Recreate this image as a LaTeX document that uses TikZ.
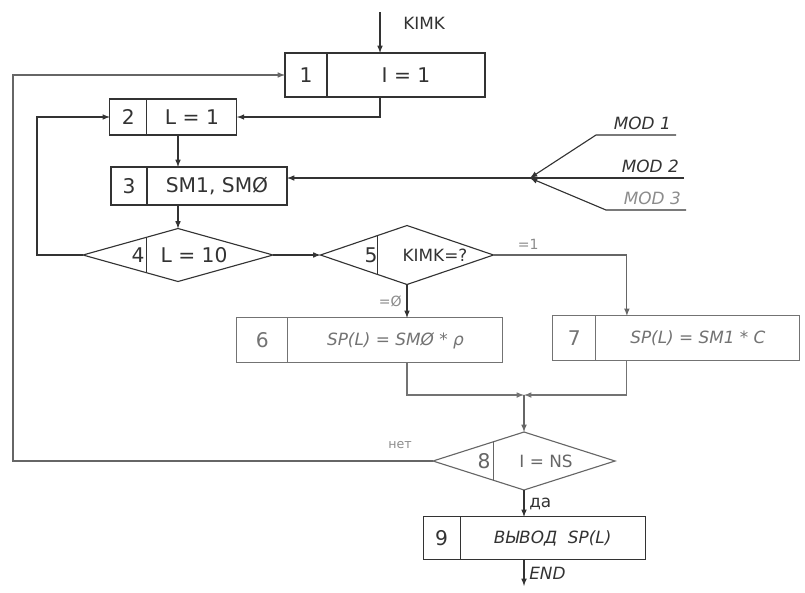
\documentclass[tikz,border=0pt]{standalone}
\usepackage{fontspec}
\setmainfont{DejaVu Sans}
\usetikzlibrary{positioning,shapes.geometric,calc}
\colorlet{ink}{black!80}
\colorlet{pale}{black!45}
\tikzset{
 numbox/.style={draw, outer sep=0pt, inner sep=0pt, font=\Large},
 txtbox/.style={draw, outer sep=0pt, inner sep=0pt, font=\Large},
 cond/.style={draw, diamond, outer sep=0pt, inner sep=0pt},
 hand/.style={font=\itshape\large}
}
\begin{document}
\begin{tikzpicture}[>=latex, thick, ink]
 \useasboundingbox (0,0) rectangle (20.125,-14.8);
 % entry
 \coordinate (start) at (9.5,-0.3);
 \node[anchor=west, font=\large] (kimk) at (9.95,-0.575) {KIMK};
 % blocks 1-3
 \node[numbox, minimum width=1.05cm, minimum height=1.1cm] (b1n) at (7.65,-1.875) {1};
 \node[txtbox, minimum width=3.95cm, minimum height=1.1cm, right=0pt of b1n] (b1) {I = 1};
 \node[numbox, minimum width=0.925cm, minimum height=0.9cm] (b2n) at (3.21,-2.925) {2};
 \node[txtbox, minimum width=2.25cm, minimum height=0.9cm, right=0pt of b2n] (b2) {L = 1};
 \node[numbox, minimum width=0.9cm, minimum height=0.95cm] (b3n) at (3.225,-4.65) {3};
 \node[txtbox, minimum width=3.5cm, minimum height=0.95cm, right=0pt of b3n] (b3) {SM1, SMØ};
 % decisions 4, 5
 \node[cond, minimum width=4.75cm, minimum height=1.325cm] (d4) at (4.45,-6.375) {};
 \node[font=\Large] (d4n) at ($(d4)+(-1.0,0)$) {4};
 \node[font=\Large] (d4t) at ($(d4)+(0.4,0)$) {L = 10};
 \draw ($(d4.north)!0.33!(d4.west)$) -- ($(d4.south)!0.33!(d4.west)$);
 \node[cond, minimum width=4.325cm, minimum height=1.475cm] (d5) at (10.175,-6.375) {};
 \node[font=\Large] (d5n) at ($(d5)+(-0.9,0)$) {5};
 \node[font=\large] (d5t) at ($(d5)+(0.7,0)$) {KIMK=?};
 \draw ($(d5.north)!0.34!(d5.west)$) -- ($(d5.south)!0.34!(d5.west)$);
 % blocks 6, 7
 \begin{scope}[black!55]
 \node[numbox, minimum width=1.275cm, minimum height=1.125cm] (b6n) at (6.56,-8.51) {6};
 \node[txtbox, hand, minimum width=5.375cm, minimum height=1.125cm, right=0pt of b6n] (b6) {SP(L) = SMØ * ρ};
 \node[numbox, minimum width=1.075cm, minimum height=1.125cm] (b7n) at (14.36,-8.46) {7};
 \node[txtbox, hand, minimum width=5.1cm, minimum height=1.125cm, right=0pt of b7n] (b7) {SP(L) = SM1 * C};
 \end{scope}
 % decision 8, output 9
 \node[cond, black!60, minimum width=4.55cm, minimum height=1.45cm] (d8) at (13.1,-11.525) {};
 \node[font=\Large, black!60] (d8n) at ($(d8)+(-1.0,0)$) {8};
 \node[font=\large, black!60] (d8t) at ($(d8)+(0.55,0)$) {I = NS};
 \draw[black!60] ($(d8.north)!0.34!(d8.west)$) -- ($(d8.south)!0.34!(d8.west)$);
 \node[numbox, minimum width=0.925cm, minimum height=1.075cm] (b9n) at (11.04,-13.46) {9};
 \node[txtbox, hand, minimum width=4.625cm, minimum height=1.075cm, right=0pt of b9n] (b9) {ВЫВОД\ \ SP(L)};
 % modules
 \coordinate (junc) at (13.25,-4.45);
 \coordinate (m1) at (16.9,-3.375);
 \coordinate (m2) at (17.1,-4.45);
 \coordinate (m3) at (17.15,-5.25);
 \node[anchor=south east, hand] (mod1) at (m1) {MOD 1};
 \node[anchor=south east, hand] (mod2) at (m2) {MOD 2};
 \node[anchor=south east, hand, pale] (mod3) at (m3) {MOD 3};
 \draw[->] (m1) -- ++(-2,0) -- (junc);
 \draw[->] (m3) -- ++(-2,0) -- (junc);
 \draw[->] (m2) -- (b3.east |- m2);
 % connectors
 \coordinate (outer) at (0.325,-6);
 \coordinate (inner) at (0.925,-4);
 \coordinate (mrg) at (13.1,-9.875);
 \coordinate (fin) at (13.1,-14.65);
 \draw[->] (start) -- (start |- b1.north);
 \draw[->] (b1.south -| start) |- (b2.east);
 \draw[->] (b2.south -| d4) -- (b3.north -| d4);
 \draw[->] (b3.south -| d4) -- (d4.north);
 \draw[->] (d4.west) -| (inner) |- (b2n.west);
 \draw[->] (d4.east) -- (d5.west);
 \draw[->] (d5.south) -- (d5.south |- b6.north) node[midway, left, pale] (eq0) {=Ø};
 \draw[->, black!60] (d5.east) -| ([xshift=0.775cm]b7.north west) node[pos=0.13, above, pale] (eq1) {=1};
 \draw[->, black!55] (b6.south -| d5.south) |- (mrg);
 \draw[->, black!55] ([xshift=0.775cm]b7.south west) |- (mrg);
 \draw[->, black!60] (mrg) -- (d8.north);
 \draw[->, black!60] (d8.west) -| (outer) |- (b1n.west);
 \node[pale, font=\small] (no) at (10.0,-11.125) {нет};
 \draw[->] (d8.south) -- (b9.north -| d8) node[midway, right, font=\large] (yes) {да};
 \draw[->] (b9.south -| fin) -- (fin) node[midway, right, hand] (endl) {END};
\end{tikzpicture}
\end{document}
